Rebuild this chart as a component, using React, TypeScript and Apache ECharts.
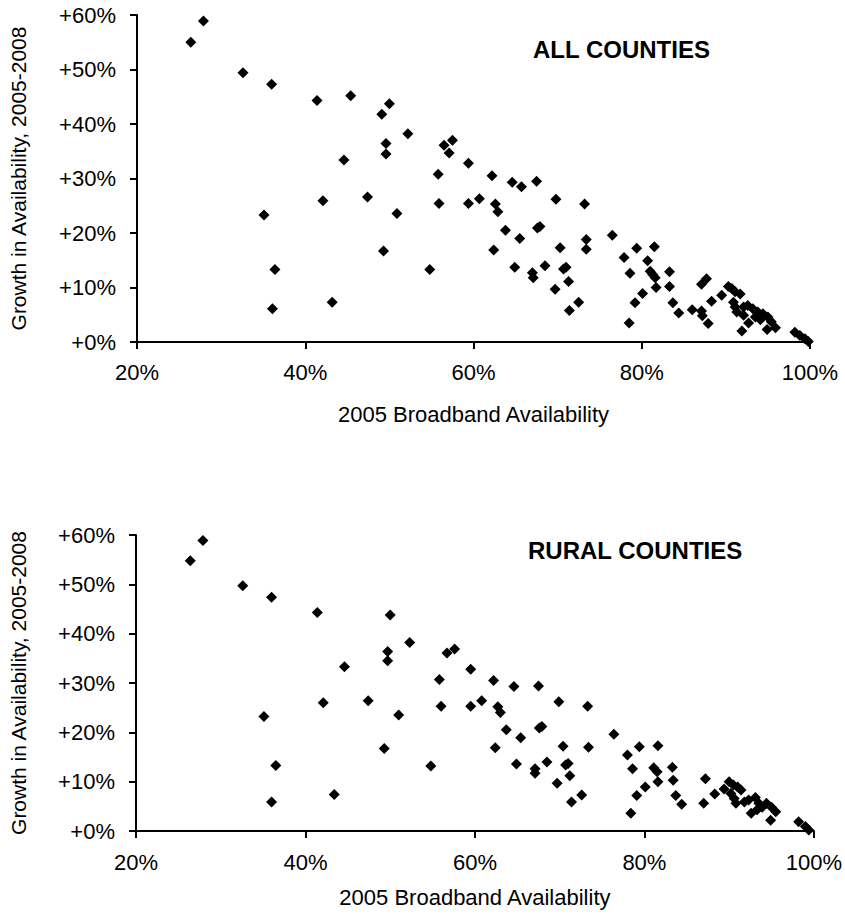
import React, { useEffect, useRef } from "react";
import * as echarts from "echarts";

// 2005 broadband availability (%) and growth 2005-2008 (percentage points)
const allX = [
  26.4, 27.9, 32.6, 36.0, 35.1, 36.4, 36.1, 41.4, 45.4, 50.0, 49.1, 52.2, 49.6, 49.6, 57.5, 56.5, 57.1, 44.6,
  59.4, 55.8, 62.2, 64.6, 65.7, 67.5, 42.1, 47.4, 55.9, 59.4, 60.7, 62.6, 62.9, 69.8, 50.9, 63.8, 65.5, 67.6,
  67.9, 49.3, 62.4, 70.3, 54.8, 64.9, 67.0, 67.1, 68.5, 70.7, 71.0, 71.3, 69.7, 71.4, 43.2, 72.5, 73.2, 73.4,
  73.4, 76.5, 79.4, 81.5, 77.9, 80.7, 78.6, 81.0, 81.3, 81.6, 83.3, 81.7, 83.3, 80.1, 79.2, 83.7, 84.4, 78.5,
  86.0, 87.1, 87.7, 87.1, 87.2, 87.9, 88.3, 89.5, 90.3, 90.7, 91.1, 91.7, 90.9, 91.1, 91.3, 92.1, 92.6, 93.2,
  93.8, 94.4, 95.0, 95.4, 95.9, 94.9, 92.1, 92.7, 91.9, 93.5, 94.1, 98.2, 98.8, 99.4, 99.8,
];
const allY = [
  55.0, 58.9, 49.4, 47.3, 23.3, 13.3, 6.1, 44.3, 45.2, 43.7, 41.8, 38.2, 36.4, 34.5, 37.0, 36.1, 34.7, 33.4,
  32.8, 30.8, 30.5, 29.3, 28.5, 29.5, 25.9, 26.6, 25.4, 25.4, 26.3, 25.3, 23.9, 26.2, 23.6, 20.5, 19.0, 20.9,
  21.2, 16.7, 16.9, 17.3, 13.3, 13.7, 12.7, 11.8, 14.0, 13.4, 13.7, 11.1, 9.7, 5.8, 7.3, 7.3, 25.3, 18.8,
  17.0, 19.6, 17.2, 17.5, 15.5, 14.9, 12.6, 13.0, 12.4, 11.8, 12.9, 10.0, 10.2, 8.9, 7.2, 7.2, 5.3, 3.5,
  5.9, 10.6, 11.6, 5.7, 4.8, 3.4, 7.5, 8.6, 10.2, 9.8, 9.2, 8.8, 7.3, 6.4, 5.5, 6.4, 6.7, 6.1,
  5.5, 5.2, 4.6, 3.7, 2.6, 2.3, 4.9, 3.5, 2.0, 4.6, 4.1, 1.8, 1.2, 0.6, 0.1,
];
const ruralX = [
  26.4, 27.9, 32.6, 36.0, 35.1, 36.5, 36.0, 41.4, 50.0, 52.3, 49.7, 49.7, 44.6, 56.7, 57.6, 59.5, 55.8, 62.2,
  64.6, 67.5, 42.1, 47.4, 56.0, 59.5, 60.8, 62.7, 63.0, 69.9, 51.0, 63.7, 65.4, 67.6, 67.9, 49.3, 62.4, 70.4,
  54.8, 64.9, 67.1, 67.1, 68.5, 70.7, 71.0, 71.2, 69.7, 71.4, 43.4, 72.6, 73.3, 73.4, 76.4, 79.4, 81.6, 78.0,
  78.6, 81.1, 81.5, 81.6, 83.3, 83.4, 80.1, 79.1, 83.7, 84.4, 78.4, 87.2, 87.0, 88.3, 89.4, 90.0, 90.5, 91.0,
  91.4, 90.2, 90.6, 90.8, 91.8, 92.3, 93.1, 93.5, 93.9, 94.4, 95.0, 95.5, 92.6, 94.9, 93.3, 98.2, 99.0, 99.4,
];
const ruralY = [
  54.8, 58.9, 49.7, 47.4, 23.2, 13.3, 5.9, 44.3, 43.8, 38.2, 36.4, 34.5, 33.3, 36.1, 36.9, 32.8, 30.7, 30.5,
  29.3, 29.4, 26.0, 26.4, 25.3, 25.3, 26.4, 25.2, 24.0, 26.2, 23.5, 20.5, 18.9, 20.9, 21.2, 16.7, 16.9, 17.2,
  13.2, 13.6, 12.6, 11.7, 14.0, 13.4, 13.7, 11.2, 9.7, 5.9, 7.4, 7.3, 25.3, 17.0, 19.6, 17.1, 17.3, 15.4,
  12.6, 12.8, 12.0, 10.0, 12.9, 10.3, 8.9, 7.2, 7.2, 5.4, 3.6, 10.6, 5.6, 7.5, 8.5, 10.0, 9.3, 8.9,
  8.3, 7.6, 6.6, 5.6, 5.9, 6.3, 6.8, 5.6, 4.8, 5.6, 4.8, 3.9, 3.6, 2.2, 4.3, 1.9, 0.9, 0.2,
];

const xName = "2005 Broadband Availability";
const yName = "Growth in Availability, 2005-2008";
const titles = ["ALL COUNTIES", "RURAL COUNTIES"];

export default function App() {
  const ref = useRef<HTMLDivElement>(null);
  useEffect(() => {
    document.body.style.margin = "0";
    const chart = echarts.init(ref.current!, null, { renderer: "svg" });
    const font = "Arial, 'Liberation Sans', sans-serif";
    const mkX = (gridIndex: number, nameGap: number, margin: number) => ({
      type: "value",
      gridIndex,
      min: 20,
      max: 100,
      interval: 20,
      name: xName,
      nameLocation: "middle",
      nameGap,
      nameTextStyle: { fontFamily: font, fontSize: 22, color: "#000" },
      axisLine: { show: true, onZero: false, lineStyle: { color: "#000", width: 2 } },
      axisTick: { show: true, inside: false, length: 7, lineStyle: { color: "#000", width: 2 } },
      axisLabel: { formatter: "{value}%", fontFamily: font, fontSize: 22, color: "#000", margin },
      splitLine: { show: false },
    });
    const mkY = (gridIndex: number, nameGap: number) => ({
      type: "value",
      gridIndex,
      min: 0,
      max: 60,
      interval: 10,
      name: yName,
      nameLocation: "middle",
      nameGap,
      nameRotate: 90,
      nameTextStyle: { fontFamily: font, fontSize: 21, color: "#000" },
      axisLine: { show: true, onZero: false, lineStyle: { color: "#000", width: 2 } },
      axisTick: { show: true, inside: false, length: 7, lineStyle: { color: "#000", width: 2 } },
      axisLabel: {
        formatter: (v: number) => "+" + v + "%",
        fontFamily: font,
        fontSize: 22,
        color: "#000",
        margin: 21,
      },
      splitLine: { show: false },
    });
    const pairs = (xs: number[], ys: number[]) => xs.map((x, i) => [x, ys[i]]);
    chart.setOption({
      animation: false,
      backgroundColor: "#fff",
      grid: [
        { left: 137, right: 35, top: 15, height: 327 },
        { left: 129, right: 31, top: 535, height: 296 },
      ],
      xAxis: [mkX(0, 61, 19), mkX(1, 55, 20)],
      yAxis: [mkY(0, 108), mkY(1, 107)],
      graphic: [
        {
          type: "text",
          left: 533,
          top: 37,
          style: { text: titles[0], font: "bold 24px Arial, 'Liberation Sans', sans-serif", fill: "#000" },
        },
        {
          type: "text",
          left: 528,
          top: 538,
          style: { text: titles[1], font: "bold 24px Arial, 'Liberation Sans', sans-serif", fill: "#000" },
        },
      ],
      series: [
        {
          type: "scatter",
          xAxisIndex: 0,
          yAxisIndex: 0,
          symbol: "diamond",
          symbolSize: 11,
          itemStyle: { color: "#000", opacity: 1 },
          data: pairs(allX, allY),
        },
        {
          type: "scatter",
          xAxisIndex: 1,
          yAxisIndex: 1,
          symbol: "diamond",
          symbolSize: 11,
          itemStyle: { color: "#000", opacity: 1 },
          data: pairs(ruralX, ruralY),
        },
      ],
    });
    return () => chart.dispose();
  }, []);
  return <div ref={ref} style={{ width: 845, height: 914 }} />;
}
